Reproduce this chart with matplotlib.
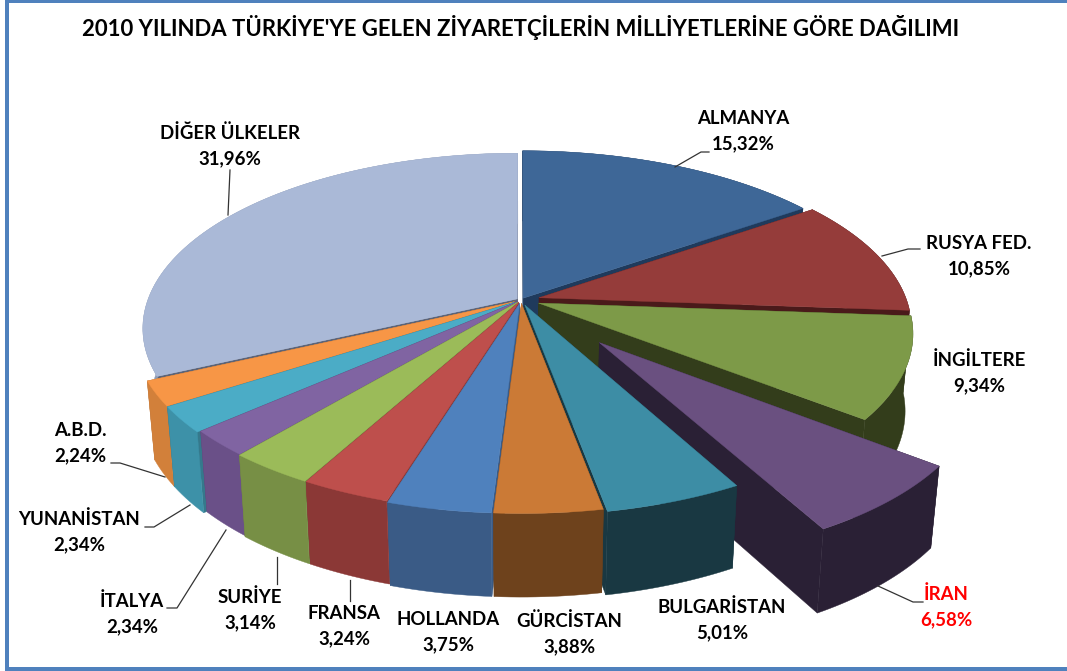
import numpy as np
import matplotlib
matplotlib.use("Agg")
import matplotlib.pyplot as plt
from matplotlib.patches import Polygon, Rectangle

categories = ["ALMANYA", "RUSYA FED.", "İNGİLTERE", "İRAN", "BULGARİSTAN", "GÜRCİSTAN",
              "HOLLANDA", "FRANSA", "SURİYE", "İTALYA", "YUNANİSTAN", "A.B.D.", "DİĞER ÜLKELER"]
shares = [15.32, 10.85, 9.34, 6.58, 5.01, 3.88, 3.75, 3.24, 3.14, 2.34, 2.34, 2.24, 31.96]
title = "2010 YILINDA TÜRKİYE'YE GELEN ZİYARETÇİLERİN MİLLİYETLERİNE GÖRE DAĞILIMI"

top_colors = ["#3E6797", "#953C3A", "#7D9A48", "#6A5080", "#3D8DA5", "#CB7A36",
              "#4F81BD", "#BE4F4C", "#9BBB59", "#8064A2", "#4BACC6", "#F79646", "#AAB9D7"]
wall_colors = ["#1F3A5C", "#4A1A1A", "#333D1B", "#2A2035", "#193842", "#6E421C",
               "#3A5B86", "#8B3836", "#778F45", "#6A5088", "#3D91A8", "#D2803A", "#8E9BB5"]
cut_colors = ["#1F3A5C", "#4A1A1A", "#333D1B", "#2A2035", "#193842", "#6E421C",
              "#3A5B86", "#8B3836", "#6B8240", "#5A4374", "#35798C", "#B06C32", "#5C6478"]
explode = [0.012, 0.05, 0.05, 0.31, 0.03, 0.02, 0.02, 0.015, 0.015, 0.012, 0.02, 0.02, 0.012]
radius = [1, 0.98, 0.98, 0.96, 1, 1, 1, 1, 1, 1, 1, 1, 0.985]

label_pos = [(743, 131), (979, 256), (979, 373), (946, 607), (722, 620), (569, 634),
             (448, 632), (344, 626), (250, 610), (132, 614), (79, 532), (80, 443), (230, 146)]
leaders = {0: [(709, 152), (701, 152), (675, 167)], 1: [(920, 249), (908, 249), (882, 256)],
           3: [(923, 602), (913, 602), (878, 586)], 7: [(350, 601), (350, 580)],
           8: [(277, 584), (277, 557)], 9: [(167, 608), (177, 608), (226, 530)],
           10: [(145, 527), (154, 527), (190, 505)], 11: [(111, 463), (120, 463), (165, 477)],
           12: [(230, 170), (228, 215)]}

CX, CY, RX, RY, K, DEPTH, SHRINK = 521, 300, 375, 173, 0.17, 76, 0.02


def project(x, y, z=0.0):
    w = 1 + K * y
    return (CX + RX * x / w * (1 - SHRINK * z),
            CY - RY * y / w + DEPTH * z / np.sqrt(w))


fig = plt.figure(figsize=(10.67, 6.71), dpi=100)
ax = fig.add_axes([0, 0, 1, 1])
ax.set_xlim(0, 1067)
ax.set_ylim(671, 0)
ax.axis("off")
plt.rcParams["font.family"] = ["Lato", "DejaVu Sans"]

edges = np.cumsum([0] + shares) / sum(shares) * 2 * np.pi
mids = (edges[:-1] + edges[1:]) / 2
order = np.argsort(-np.cos(mids))

for i in order:
    a0, a1, m, d, r = edges[i], edges[i + 1], mids[i], explode[i], radius[i]
    ox, oy = d * np.sin(m), d * np.cos(m)
    th = np.linspace(a0, a1, max(6, int((a1 - a0) * 60)))
    arc_x, arc_y = ox + r * np.sin(th), oy + r * np.cos(th)
    z = 10 + int(np.where(order == i)[0][0]) * 3
    # radial cut faces
    for t in (a0, a1):
        ex, ey = ox + r * np.sin(t), oy + r * np.cos(t)
        quad = [project(ox, oy), project(ex, ey), project(ex, ey, 1), project(ox, oy, 1)]
        ax.add_patch(Polygon(quad, closed=True, fc=cut_colors[i], ec=cut_colors[i], lw=0.3, zorder=z))
    # outer wall
    wall = [project(x, y) for x, y in zip(arc_x, arc_y)] + \
           [project(x, y, 1) for x, y in zip(arc_x[::-1], arc_y[::-1])]
    ax.add_patch(Polygon(wall, closed=True, fc=wall_colors[i], ec=wall_colors[i], lw=0.3, zorder=z + 1))
    # top face
    top = [project(ox, oy)] + [project(x, y) for x, y in zip(arc_x, arc_y)]
    ax.add_patch(Polygon(top, closed=True, fc=top_colors[i], ec=top_colors[i], lw=0.3, zorder=z + 2))

for i, (name, v) in enumerate(zip(categories, shares)):
    color = "#FF0000" if name == "İRAN" else "black"
    pct = f"{v:.2f}%".replace(".", ",")
    ax.text(*label_pos[i], f"{name}\n{pct}", ha="center", va="center",
            fontsize=13.4, fontweight="bold", color=color, linespacing=1.58, zorder=100)
for pts in leaders.values():
    xs, ys = zip(*pts)
    ax.plot(xs, ys, color="#333333", lw=0.9, zorder=99)

ax.text(521, 28, title, ha="center", va="center", fontsize=15.9, fontweight="bold", color="black", zorder=100)

# blue frame
for r in [(5, 0, 4, 671), (5, 0, 1062, 3), (5, 667, 1062, 4)]:
    ax.add_patch(Rectangle(r[:2], r[2], r[3], fc="#4F81BD", ec="none", zorder=120))

fig.savefig("out.png", dpi=100)
